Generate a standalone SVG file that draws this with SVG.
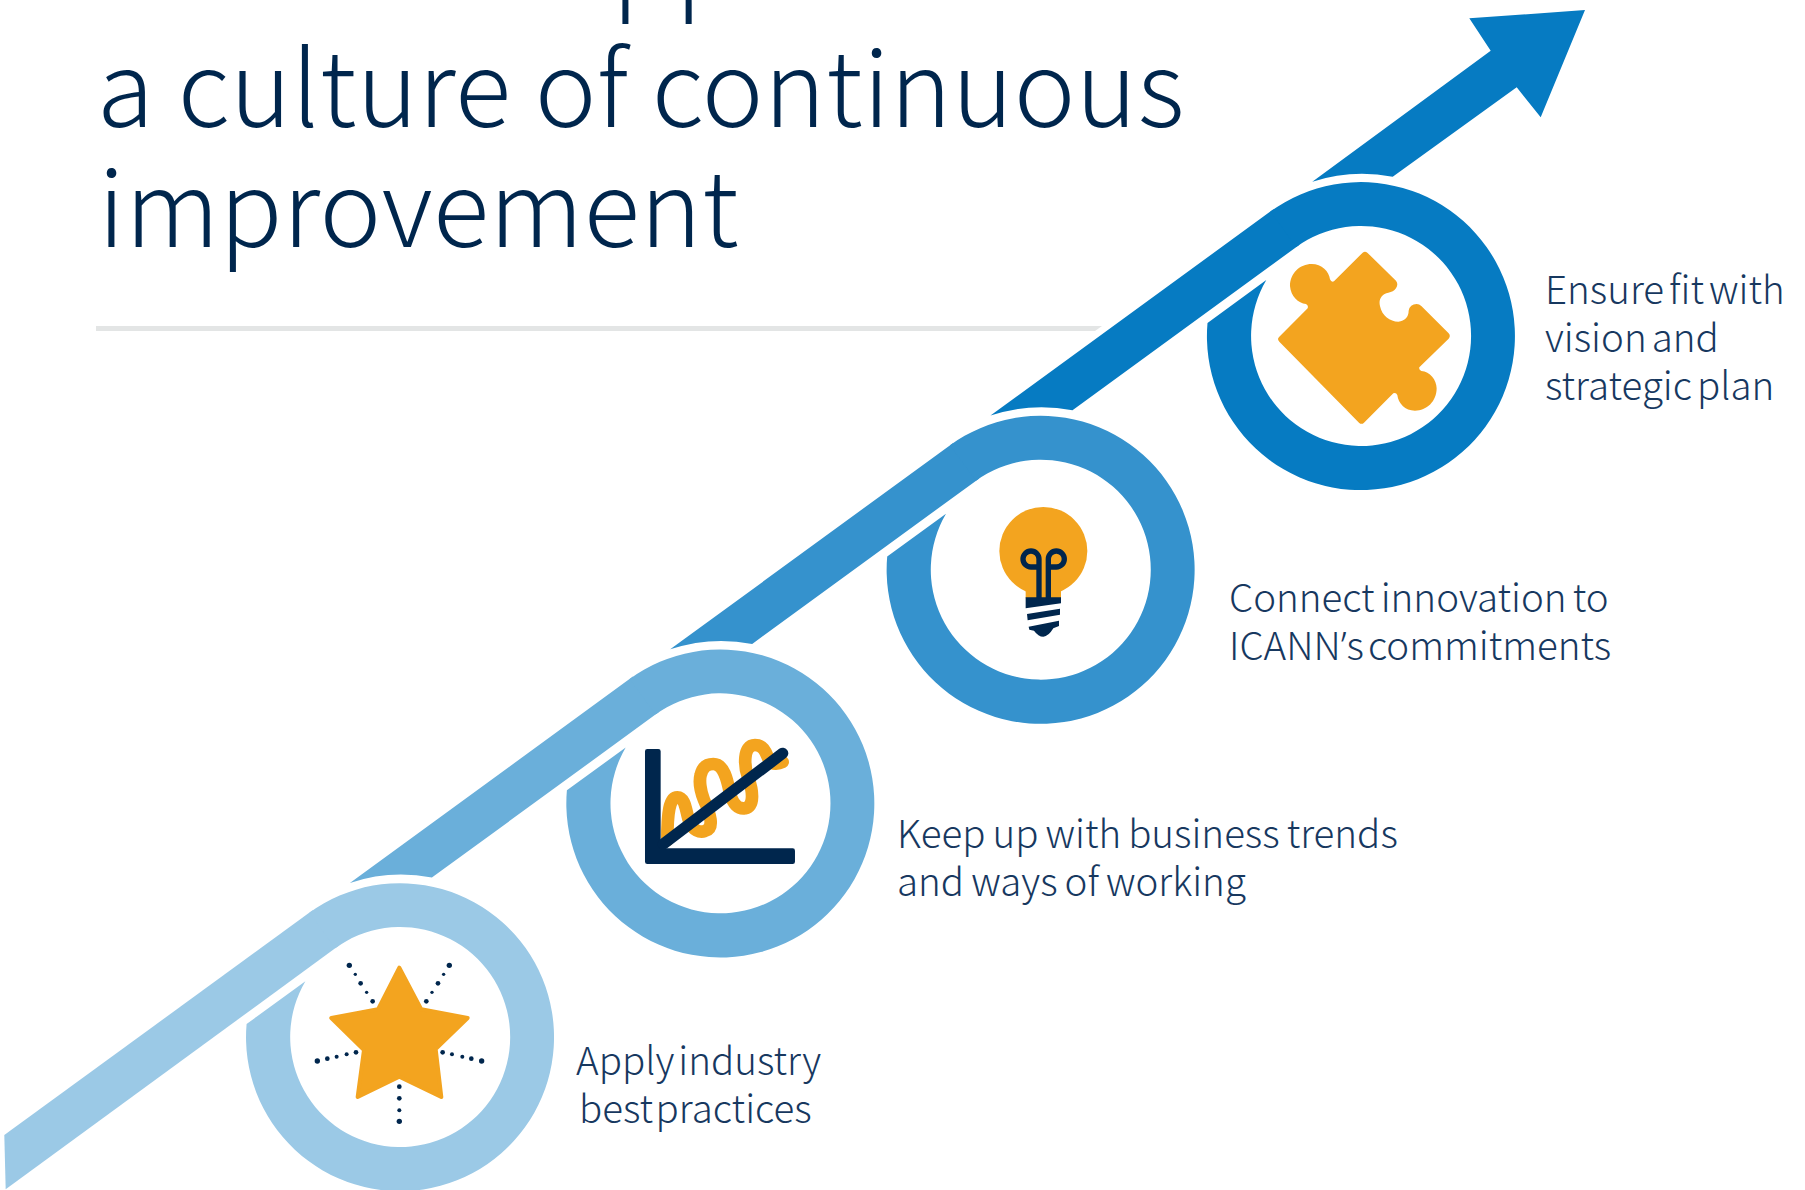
<svg xmlns="http://www.w3.org/2000/svg" width="1805" height="1190" viewBox="0 0 1805 1190">
<style>
text{font-family:"Noto Sans CJK SC","Noto Sans",sans-serif;font-weight:300}
.title{font-size:104px;letter-spacing:.4px;fill:#00264d}
.label{font-size:38.5px;word-spacing:-3.5px;fill:#17385f}
.apos{font-family:"Noto Sans",sans-serif}
.c1{fill:#9bc9e6}.c2{fill:#6aafda}.c3{fill:#3592cd}.c4{fill:#067bc2}
.o{fill:#f3a41f}.n{fill:#00264d}
</style>
<defs>
<path id="ring" d="M-90.7 -124.4A154 154 0 1 1 -153.5 -13.1L-94.7 -55.9A110 110 0 1 0 -64.8 -88.9Z"/>
<path id="band" d="M-87.5 -126.8L-370.5 79.6A162 162 0 0 1 -288.5 74.2L-61.5 -91.3Z"/>
</defs>
<rect width="1805" height="1190" fill="#fff"/>
<g id="title">
<text class="title" x="612" y="-1" letter-spacing="6">pp</text>
<text class="title" x="97" y="127">a culture of continuous</text>
<text class="title" x="98" y="247">improvement</text>
<polygon points="96,326 1102,326 1095,331 96,331" fill="#e3e5e5"/>
</g>
<g id="connectors">
<path class="c4" d="M1585 10L1469.3 18.3L1490.7 50.7L1312.3 181.7A162 162 0 0 1 1392.7 176.7L1516.7 87.3L1540.7 117.3Z"/>
<use href="#band" class="c4" transform="translate(1361 336)"/>
<use href="#band" class="c3" transform="translate(1040.7 569.7)"/>
<use href="#band" class="c2" transform="translate(720.4 803.4)"/>
<path class="c1" transform="translate(400.1 1037.1)" d="M-87.5 -126.8L-395.8 97.9L-394.4 152.2L-61.5 -91.3Z"/>
</g>
<g id="step-1">
<use href="#ring" class="c1" transform="translate(400.1 1037.1)"/>
<g transform="translate(230 900) scale(.3333)">
<polygon class="o" stroke="#f3a41f" stroke-width="12" stroke-linejoin="round" points="508,203 574,328 713,354 617,447 634,591 508,530 383,591 402,450 304,354 444,328"/>
<g class="n">
<circle cx="358" cy="196" r="8"/><circle cx="376" cy="223" r="5"/><circle cx="392" cy="250" r="7"/><circle cx="410" cy="277" r="5"/><circle cx="428" cy="304" r="7"/>
<circle cx="658" cy="196" r="8"/><circle cx="641" cy="223" r="5"/><circle cx="624" cy="250" r="7"/><circle cx="606" cy="277" r="5"/><circle cx="589" cy="304" r="7"/>
<circle cx="262" cy="483" r="8"/><circle cx="292" cy="476" r="7"/><circle cx="320" cy="470" r="6"/><circle cx="350" cy="463" r="6"/><circle cx="378" cy="457" r="7"/>
<circle cx="755" cy="483" r="8"/><circle cx="724" cy="476" r="7"/><circle cx="697" cy="470" r="6"/><circle cx="666" cy="463" r="6"/><circle cx="638" cy="457" r="7"/>
<circle cx="508" cy="560" r="7"/><circle cx="508" cy="595" r="7"/><circle cx="508" cy="631" r="6"/><circle cx="508" cy="664" r="8"/>
</g>
</g>
<text class="label" x="576" y="1075" style="word-spacing:-4.5px">Apply industry</text>
<text class="label" x="579" y="1123" style="word-spacing:-6px">best practices</text>
</g>
<g id="step-2">
<use href="#ring" class="c2" transform="translate(720.4 803.4)"/>
<g transform="translate(600 700) scale(.3333)">
<path fill="none" stroke="#f3a41f" stroke-width="38" stroke-linecap="round" d="M202 420C202 340 208 292 232 292C258 292 258 340 268 365C278 392 300 398 315 393C345 385 330 340 312 300C300 270 298 240 302 225C308 200 322 192 340 192C372 192 382 240 390 280C398 312 415 328 435 325C465 318 458 270 445 235C432 200 428 135 465 135C497 135 500 170 510 185C518 193 535 193 548 186"/>
<path class="n" d="M142 147H175Q182 147 182 154V445H578Q585 445 585 452V485Q585 492 578 492H142Q135 492 135 485V154Q135 147 142 147Z"/>
<line x1="190" y1="432" x2="548" y2="160" stroke="#00264d" stroke-width="34" stroke-linecap="round"/>
</g>
<text class="label" x="897" y="848" style="word-spacing:-1.5px">Keep up with business trends</text>
<text class="label" x="897" y="896" style="word-spacing:-1.5px">and ways of working</text>
</g>
<g id="step-3">
<use href="#ring" class="c3" transform="translate(1040.7 569.7)"/>
<g transform="translate(960 480) scale(.3333)">
<circle class="o" cx="250" cy="213" r="132"/>
<rect class="o" x="197" y="300" width="106" height="55"/>
<path class="n" d="M197 352H303V370L197 385ZM201 402L300 386V404L203 421ZM206 440L297 422V438L280 445Q265 470 250 470Q235 470 222 452L208 449Z"/>
<path fill="none" stroke="#00264d" stroke-width="16" d="M237 355V237A24 24 0 1 0 213 261H237M265 355V237A24 24 0 1 1 289 261H265"/>
</g>
<text class="label" x="1229" y="612" style="word-spacing:-2.5px">Connect innovation to</text>
<text class="label" x="1229" y="660" style="word-spacing:-4.5px">ICANN<tspan class="apos">’</tspan>s commitments</text>
</g>
<g id="step-4">
<use href="#ring" class="c4" transform="translate(1361 336)"/>
<path class="o" transform="translate(1180 160) scale(.3333)" d="M548 278Q555 272 562 278L648 362Q656 372 648 385Q640 396 625 398C605 400 595 420 600 438C606 468 630 485 655 485C675 483 686 470 686 452Q690 432 710 432Q718 432 724 438L806 520Q813 528 806 536L718 622Q716 630 724 633C750 635 770 660 770 685C770 725 740 752 705 752C675 752 655 730 652 705Q648 696 640 700L552 788Q545 795 537 788L298 545Q290 537 298 530L383 445Q386 436 378 432C355 430 332 408 330 378C330 340 360 312 395 312C425 312 448 335 450 358Q454 368 462 364Z"/>
<text class="label" x="1545" y="304">Ensure fit with</text>
<text class="label" x="1545" y="352">vision and</text>
<text class="label" x="1545" y="400">strategic plan</text>
</g>
</svg>
